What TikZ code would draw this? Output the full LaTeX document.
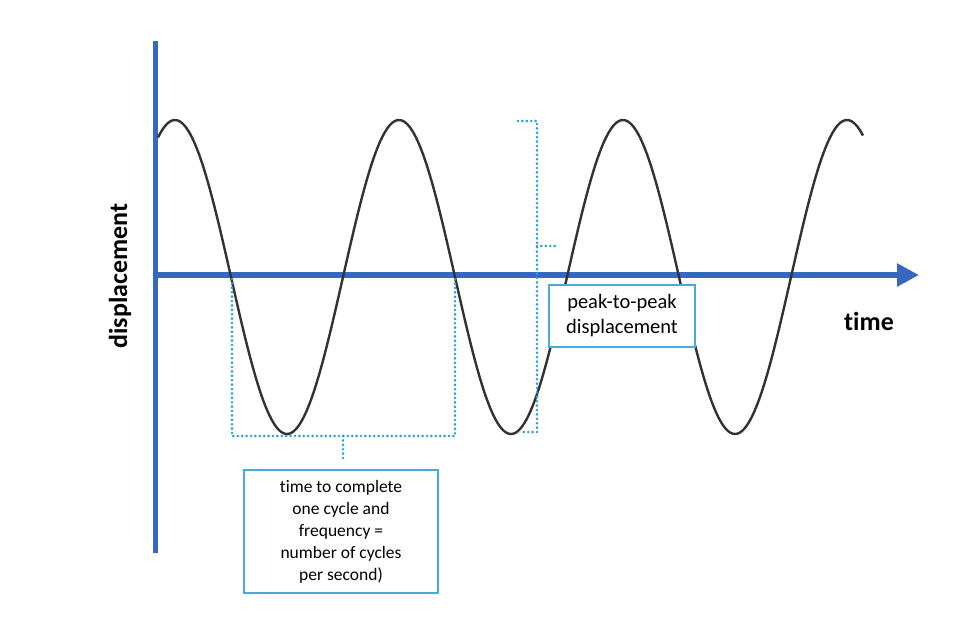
\documentclass[tikz,border=0pt]{standalone}
\usepackage{fontspec}
\setmainfont{Carlito}[Ligatures={NoCommon}]
\usetikzlibrary{arrows.meta}
\definecolor{axisblue}{HTML}{3767BF}
\definecolor{dotblue}{HTML}{2E9FD6}
\definecolor{boxblue}{HTML}{4AAAD6}
\definecolor{wave}{HTML}{333333}
\tikzset{
  axisline/.style={line width=5.5pt, draw=axisblue},
  dotline/.style={draw=dotblue, line width=2.9pt, line cap=round, dash pattern=on 0pt off 4.4pt},
  infobox/.style={draw=boxblue, line width=1.8pt, fill=white, align=center, inner sep=0pt},
  axislabel/.style={font=\fontsize{26}{30}\selectfont\bfseries, text=black},
}
\begin{document}
\begin{tikzpicture}[x=1pt,y=-1pt]
\useasboundingbox[fill=white] (0,0) rectangle (960,640);
% axes
\coordinate (ytop) at (155.5,41);
\coordinate (ybot) at (155.5,553);
\coordinate (xorig) at (153,275);
\coordinate (xend) at (919,275);
\draw[axisline] (ytop) -- (ybot);
\draw[axisline, -{Triangle[length=22pt,width=22pt]}] (xorig) -- (xend);
% wave
\draw[wave, line width=2.4pt, line join=round] plot[domain=158:863, samples=400, smooth] (\x, {277-157*cos(((\x-175)/224)*360)});
% labels
\node[axislabel, rotate=90] (ylab) at (120,276) {displacement};
\node[axislabel] (xlab) at (869,321) {time};
% period bracket
\coordinate (p1) at (232,279);
\coordinate (p2) at (232,436);
\coordinate (p3) at (455,436);
\coordinate (p4) at (455,279);
\coordinate (pm) at (343,436);
\coordinate (pt) at (343,461);
\draw[dotline] (p1) -- (p2) -- (p3) -- (p4);
\draw[dotline] (pm) -- (pt);
% peak-to-peak bracket
\coordinate (q1) at (518,121);
\coordinate (q2) at (537,121);
\coordinate (q3) at (537,432);
\coordinate (q4) at (520,432);
\coordinate (qm) at (537,246);
\coordinate (qt) at (556,246);
\draw[dotline] (q1) -- (q2) -- (q3) -- (q4);
\draw[dotline] (qm) -- (qt);
% boxes
\node[infobox, minimum width=194pt, minimum height=123pt, font=\fontsize{17.5}{22}\selectfont] (period) at (341,531.5)
  {time to complete\\one cycle and\\frequency =\\number of cycles\\per second)};
\node[infobox, minimum width=146pt, minimum height=62pt, font=\fontsize{20.5}{25}\selectfont] (p2p) at (622,316)
  {peak-to-peak\\displacement};
\end{tikzpicture}
\end{document}
